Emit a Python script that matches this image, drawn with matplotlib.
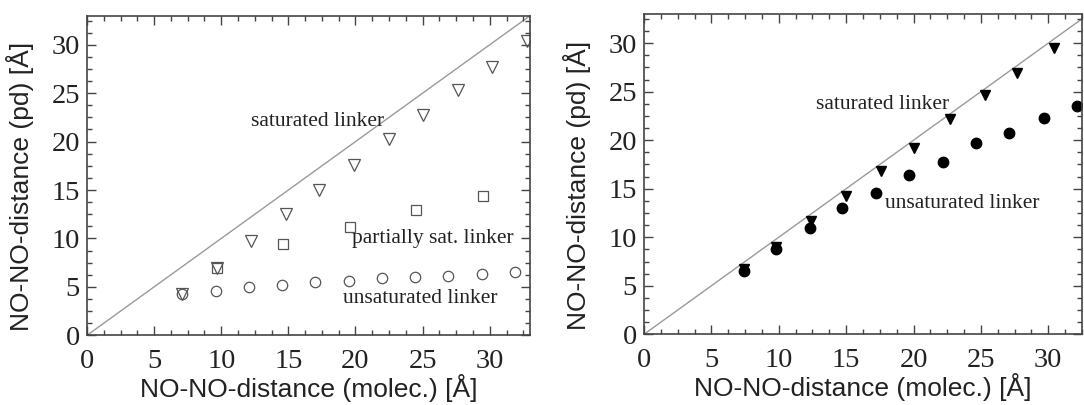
import matplotlib
matplotlib.use("Agg")
import matplotlib.pyplot as plt
from matplotlib.ticker import MultipleLocator

# left panel: NO-NO distance, pd vs molecule
sat_x = [7.1, 9.7, 12.2, 14.8, 17.3, 19.9, 22.5, 25.0, 27.6, 30.2, 32.8]
sat_y = [4.3, 6.9, 9.7, 12.5, 15.0, 17.6, 20.3, 22.7, 25.3, 27.7, 30.4]
part_x = [9.7, 14.6, 19.6, 24.5, 29.5]
part_y = [6.9, 9.4, 11.2, 12.9, 14.4]
unsat_x = [7.1, 9.6, 12.1, 14.5, 17.0, 19.5, 22.0, 24.4, 26.9, 29.4, 31.9]
unsat_y = [4.3, 4.6, 5.0, 5.2, 5.5, 5.6, 5.9, 6.0, 6.15, 6.3, 6.55]

# right panel
sat2_x = [7.4, 9.8, 12.4, 15.0, 17.6, 20.0, 22.7, 25.3, 27.7, 30.4]
sat2_y = [6.7, 9.0, 11.7, 14.3, 16.8, 19.2, 22.2, 24.7, 26.9, 29.5]
unsat2_x = [7.4, 9.8, 12.3, 14.7, 17.2, 19.7, 22.2, 24.65, 27.1, 29.65, 32.1]
unsat2_y = [6.55, 8.75, 11.0, 13.0, 14.55, 16.4, 17.75, 19.7, 20.7, 22.3, 23.5]

serif = "Liberation Serif"
sans = "Liberation Sans"
edge = "#444444"

fig = plt.figure(figsize=(10.84, 4.05), dpi=100)
ax1 = fig.add_axes([87/1084, 1-335.3/405, 443/1084, 319.6/405])
ax2 = fig.add_axes([644/1084, 1-334.3/405, 438/1084, 320.3/405])


def style(ax, xmax):
    ax.set_xlim(0, xmax)
    ax.set_ylim(0, 33)
    ax.axline((0, 0), slope=1, color="#9a9a9a", lw=1.0, zorder=1)
    for a in (ax.xaxis, ax.yaxis):
        a.set_major_locator(MultipleLocator(5))
        a.set_minor_locator(MultipleLocator(1.25))
    ax.tick_params(which="both", direction="in", top=True, right=True,
                   color=edge, width=1.0)
    ax.tick_params(which="major", length=6.5)
    ax.tick_params(which="minor", length=3.5)
    ax.tick_params(axis="x", pad=10)
    ax.tick_params(axis="y", pad=5)
    for lab in ax.get_xticklabels() + ax.get_yticklabels():
        lab.set_fontfamily(serif)
        lab.set_fontsize(20.5)
        lab.set_color("#222222")
    for s in ax.spines.values():
        s.set_color(edge)
        s.set_linewidth(1.2)
    ax.set_xlabel("NO-NO-distance (molec.) [Å]", fontfamily=sans, fontsize=19, color="#222222")
    ax.set_ylabel("NO-NO-distance (pd) [Å]", fontfamily=sans, fontsize=19, color="#222222")
    ax.xaxis.set_label_coords(0.5, -0.12)
    ax.yaxis.set_label_coords(-0.12, 0.465)


style(ax1, 33)
style(ax2, 32.5)

gray = "#555555"
ax1.plot(sat_x, sat_y, "v", ms=8, mfc="none", mec=gray, mew=0.9, ls="none")
ax1.plot(part_x, part_y, "s", ms=6.8, mfc="none", mec=gray, mew=0.9, ls="none")
ax1.plot(unsat_x, unsat_y, "o", ms=7.5, mfc="none", mec=gray, mew=0.9, ls="none")

ax1.text(12.2, 21.6, "saturated linker", fontfamily=serif, fontsize=15.5, color="#222222")
ax1.text(19.75, 9.5, "partially sat. linker", fontfamily=serif, fontsize=15.5, color="#222222")
ax1.text(19.05, 3.3, "unsaturated linker", fontfamily=serif, fontsize=15.5, color="#222222")

ax2.plot(sat2_x, sat2_y, "v", ms=7.5, color="black", ls="none")
ax2.plot(unsat2_x, unsat2_y, "o", ms=7.5, color="black", ls="none")

ax2.text(12.77, 23.2, "saturated linker", fontfamily=serif, fontsize=15.5, color="#222222")
ax2.text(17.9, 13.05, "unsaturated linker", fontfamily=serif, fontsize=15.5, color="#222222")

fig.savefig("out.png", dpi=100)
